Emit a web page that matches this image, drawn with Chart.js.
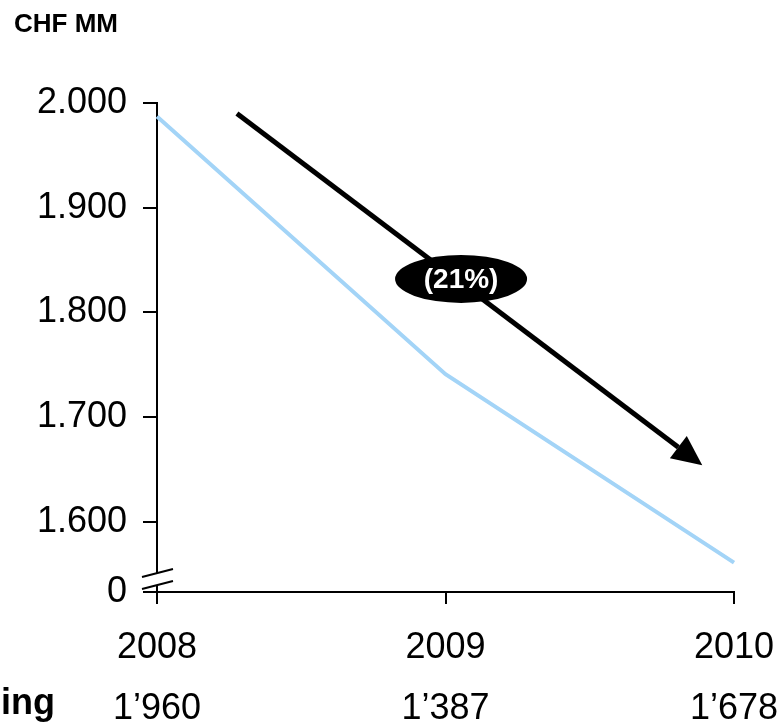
<!DOCTYPE html>
<html><head><meta charset="utf-8">
<script src="https://cdn.jsdelivr.net/npm/chart.js@4.4.1/dist/chart.umd.min.js"></script>
<style>html,body{margin:0;padding:0;background:#fff;overflow:hidden}#wrap{width:780px;height:725px;position:relative}</style>
</head><body><div id="wrap"><canvas id="c" width="780" height="725"></canvas></div>
<script>
// ---- data ----
const years = ['2008', '2009', '2010'];
const values = [1987, 1741, 1561];
const yTickValues = [1600, 1700, 1800, 1900, 2000];
const yBreakMin = 1533;          // shown as "0" below the axis break
const yMax = 2000;
const rowLabel = 'ing';
const rowValues = ['1\u2019960', '1\u2019387', '1\u2019678'];
const unitLabel = 'CHF MM';
const changeLabel = '(21%)';
const arrowFrom = [0.277, 1990];
const arrowTo = [1.89, 1654];
const bubbleAt = [1.054, 1832];

const FONT = '"Liberation Sans", Arial, sans-serif';

const decor = {
  id: 'decor',
  afterDraw(chart) {
    const ctx = chart.ctx, x = chart.scales.x, y = chart.scales.y, ca = chart.chartArea;
    ctx.save();
    // unit title
    ctx.fillStyle = '#000';
    ctx.font = 'bold 26px ' + FONT;
    ctx.textAlign = 'left'; ctx.textBaseline = 'alphabetic';
    ctx.fillText(unitLabel, 14, 32);
    // axis break
    const ax = ca.left, yb = ca.bottom;
    ctx.fillStyle = '#fff';
    ctx.beginPath();
    ctx.moveTo(ax - 15, yb - 15); ctx.lineTo(ax + 16, yb - 23);
    ctx.lineTo(ax + 16, yb - 11); ctx.lineTo(ax - 15, yb - 3); ctx.closePath();
    ctx.fill();
    ctx.strokeStyle = '#000'; ctx.lineWidth = 2;
    ctx.beginPath();
    ctx.moveTo(ax - 15, yb - 15); ctx.lineTo(ax + 16, yb - 23);
    ctx.moveTo(ax - 15, yb - 3); ctx.lineTo(ax + 16, yb - 11);
    ctx.stroke();
    // arrow
    const x0 = x.getPixelForValue(arrowFrom[0]), y0 = y.getPixelForValue(arrowFrom[1]);
    const x1 = x.getPixelForValue(arrowTo[0]), y1 = y.getPixelForValue(arrowTo[1]);
    const ang = Math.atan2(y1 - y0, x1 - x0);
    const hl = 30, hw = 14;
    const bx = x1 - hl * Math.cos(ang), by = y1 - hl * Math.sin(ang);
    ctx.strokeStyle = '#000'; ctx.lineWidth = 5; ctx.lineCap = 'butt';
    ctx.beginPath(); ctx.moveTo(x0, y0); ctx.lineTo(bx, by); ctx.stroke();
    ctx.fillStyle = '#000';
    ctx.beginPath();
    ctx.moveTo(x1, y1);
    ctx.lineTo(bx + hw * Math.sin(ang), by - hw * Math.cos(ang));
    ctx.lineTo(bx - hw * Math.sin(ang), by + hw * Math.cos(ang));
    ctx.closePath(); ctx.fill();
    // bubble
    const cx = x.getPixelForValue(bubbleAt[0]), cy = y.getPixelForValue(bubbleAt[1]);
    ctx.beginPath(); ctx.ellipse(cx, cy, 66, 24, 0, 0, Math.PI * 2); ctx.fill();
    ctx.fillStyle = '#fff'; ctx.font = 'bold 28px ' + FONT;
    ctx.textAlign = 'center'; ctx.textBaseline = 'middle';
    ctx.fillText(changeLabel, cx, cy + 1);
    // value row
    ctx.fillStyle = '#000';
    ctx.textBaseline = 'alphabetic';
    ctx.font = 'bold 36px ' + FONT; ctx.textAlign = 'right';
    ctx.fillText(rowLabel, 55, 714);
    ctx.font = '36px ' + FONT; ctx.textAlign = 'center';
    rowValues.forEach((v, i) => ctx.fillText(v, x.getPixelForValue(i), 719));
    ctx.restore();
  }
};

new Chart(document.getElementById('c'), {
  type: 'line',
  data: {
    labels: years,
    datasets: [{
      data: values,
      borderColor: '#a3d4f7',
      borderWidth: 4,
      pointRadius: 0,
      tension: 0,
      fill: false
    }]
  },
  options: {
    responsive: false,
    animation: false,
    devicePixelRatio: 1,
    layout: { padding: { left: 0, right: 46, top: 103, bottom: 0 } },
    plugins: { legend: { display: false }, tooltip: { enabled: false }, title: { display: false } },
    scales: {
      x: {
        type: 'category',
        offset: false,
        border: { display: true, color: '#000', width: 2 },
        grid: { drawOnChartArea: false, drawTicks: true, tickLength: 12, color: '#000', lineWidth: 2 },
        ticks: { color: '#000', font: { family: FONT, size: 36 }, padding: 22, maxRotation: 0, autoSkip: false },
        afterFit(s) { s.height = 133; s.paddingLeft = 0; s.paddingRight = 0; }
      },
      y: {
        min: yBreakMin,
        max: yMax,
        border: { display: true, color: '#000', width: 2 },
        grid: { drawOnChartArea: false, drawTicks: true, tickLength: 14, color: '#000', lineWidth: 2 },
        afterBuildTicks(s) { s.ticks = [yBreakMin].concat(yTickValues).map(v => ({ value: v })); },
        ticks: {
          color: '#000', font: { family: FONT, size: 36 }, padding: 16,
          callback: v => v === yBreakMin ? '0' : (v / 1000).toFixed(3)
        },
        afterFit(s) { s.width = 157; s.paddingTop = 0; s.paddingBottom = 0; }
      }
    }
  },
  plugins: [decor]
});
</script></body></html>
